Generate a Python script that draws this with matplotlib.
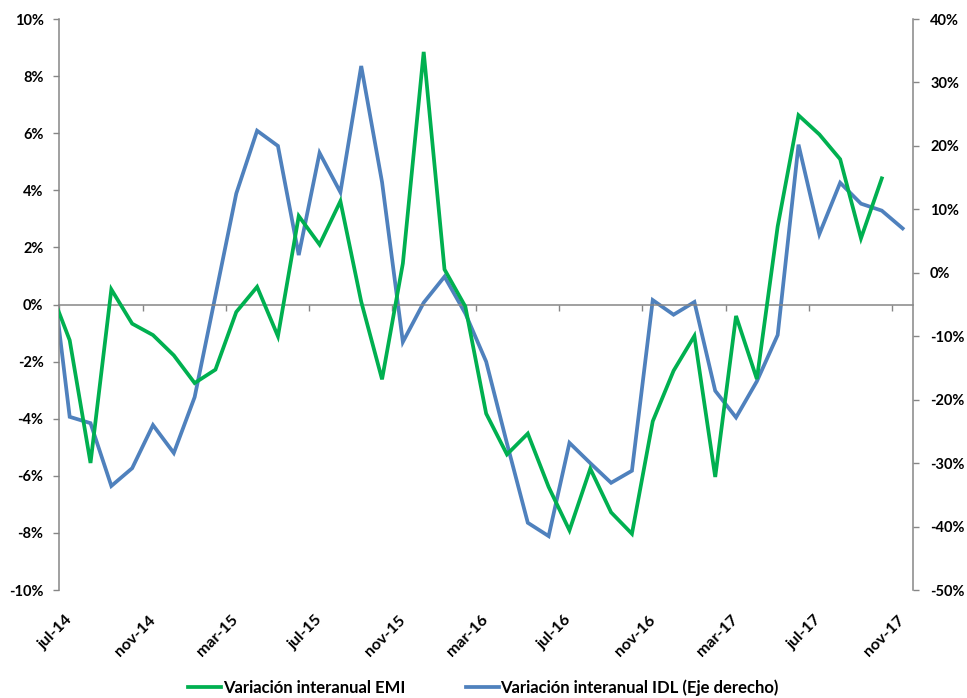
import numpy as np
import matplotlib
matplotlib.use("Agg")
import matplotlib.pyplot as plt
from matplotlib.ticker import FuncFormatter, FixedLocator

plt.rcParams["font.family"] = ["Lato", "DejaVu Sans"]
plt.rcParams["font.weight"] = "bold"

# ----------------------------------------------------------------------------
# DATA (jun-14 .. nov-17; jun-14 sits just left of the visible axis)
# ----------------------------------------------------------------------------
MONTHS = ["jun-14",
          "jul-14", "ago-14", "sep-14", "oct-14", "nov-14", "dic-14",
          "ene-15", "feb-15", "mar-15", "abr-15", "may-15", "jun-15",
          "jul-15", "ago-15", "sep-15", "oct-15", "nov-15", "dic-15",
          "ene-16", "feb-16", "mar-16", "abr-16", "may-16", "jun-16",
          "jul-16", "ago-16", "sep-16", "oct-16", "nov-16", "dic-16",
          "ene-17", "feb-17", "mar-17", "abr-17", "may-17", "jun-17",
          "jul-17", "ago-17", "sep-17", "oct-17", "nov-17"]

# Variación interanual EMI (%), left axis
EMI = [0.65,
       -1.25, -5.55, 0.53, -0.67, -1.07, -1.78,
       -2.75, -2.28, -0.26, 0.62, -1.11, 3.10,
       2.10, 3.62, 0.10, -2.62, 1.44, 8.85,
       1.23, -0.07, -3.82, -5.25, -4.52, -6.39,
       -7.91, -5.75, -7.28, -8.03, -4.09, -2.32,
       -1.10, -6.04, -0.40, -2.61, 2.74, 6.63,
       5.96, 5.09, 2.32, 4.42, np.nan]

# Variación interanual IDL (%), right axis
IDL = [4.5,
       -22.7, -23.7, -33.6, -30.8, -24.0, -28.4,
       -19.6, -3.6, 12.5, 22.4, 20.0, 2.8,
       18.9, 12.7, 32.6, 14.3, -10.9, -4.7,
       -0.6, -6.4, -14.0, -26.9, -39.4, -41.5,
       -26.8, -30.0, -33.1, -31.2, -4.3, -6.6,
       -4.6, -18.6, -22.8, -17.1, -9.8, 20.2,
       6.1, 14.2, 10.9, 9.8, 7.0]

LABEL_EVERY = 4

# ----------------------------------------------------------------------------
# STYLE
# ----------------------------------------------------------------------------
GREEN = "#00B050"
BLUE = "#4F81BD"
AXIS_GREY = "#868686"
FS = 10.5

x = np.arange(len(MONTHS)) - 1          # jul-14 -> 0
n_vis = len(MONTHS) - 1

fig = plt.figure(figsize=(9.67, 6.98), dpi=100)
ax = fig.add_axes([0.0613, 0.1547, 0.8829, 0.818])
ax2 = ax.twinx()

ax.plot(x, EMI, color=GREEN, lw=2.7, solid_joinstyle="miter", zorder=3,
        label="Variación interanual EMI")
ax2.plot(x, IDL, color=BLUE, lw=2.7, solid_joinstyle="miter", zorder=3,
         label="Variación interanual IDL (Eje derecho)")

ax.set_xlim(-0.5, n_vis - 0.5)
ax.set_ylim(-10, 10)
ax2.set_ylim(-50, 40)
ax.set_zorder(ax2.get_zorder() + 1)
ax.patch.set_visible(False)

pct = FuncFormatter(lambda v, _: f"{v:.0f}%")
ax.yaxis.set_major_locator(FixedLocator(np.arange(-10, 11, 2)))
ax.yaxis.set_major_formatter(pct)
ax2.yaxis.set_major_locator(FixedLocator(np.arange(-50, 41, 10)))
ax2.yaxis.set_major_formatter(pct)

# category labels every 4 months, at category centres
lab_pos = x[1::LABEL_EVERY]
ax.set_xticks(lab_pos)
ax.set_xticklabels([MONTHS[i + 1] for i in lab_pos], rotation=45, ha="right",
                   va="center", rotation_mode="anchor", fontsize=11.5)
ax.tick_params(axis="x", length=0, pad=20)

for a in (ax, ax2):
    for s in ("top", "bottom"):
        a.spines[s].set_visible(False)
ax.spines["right"].set_visible(False)
ax2.spines["left"].set_visible(False)
ax.spines["left"].set_color(AXIS_GREY)
ax.spines["left"].set_linewidth(1.1)
ax2.spines["right"].set_color(AXIS_GREY)
ax2.spines["right"].set_linewidth(1.1)
ax.tick_params(axis="y", length=4.3, width=1.0, color=AXIS_GREY, pad=7, labelsize=FS)
ax2.tick_params(axis="y", length=4.3, width=1.0, color=AXIS_GREY, pad=8, labelsize=FS)

# horizontal axis line at 0 with tick marks between category groups
zero = ax.secondary_xaxis(0, transform=ax.transData)
zero.set_xticks(np.arange(-0.5, n_vis, LABEL_EVERY))
zero.set_xticklabels([])
zero.spines["bottom"].set_color(AXIS_GREY)
zero.spines["bottom"].set_linewidth(1.1)
zero.tick_params(axis="x", direction="out", length=4.3, width=1.0, color=AXIS_GREY)

h1, l1 = ax.get_legend_handles_labels()
h2, l2 = ax2.get_legend_handles_labels()
fig.legend(h1 + h2, l1 + l2, loc="center", bbox_to_anchor=(0.5, 1 - 688 / 698),
           ncol=2, frameon=False, fontsize=12, handlelength=2.0,
           handletextpad=0.1, columnspacing=3.6)

fig.savefig("out.png", dpi=100)
